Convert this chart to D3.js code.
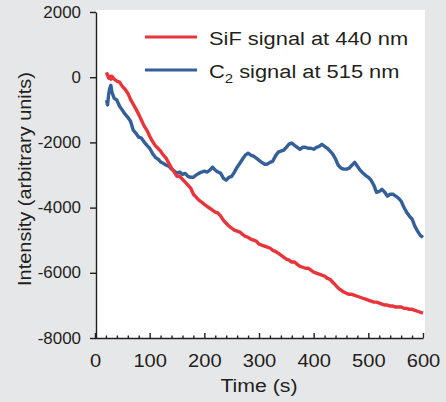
<!DOCTYPE html>
<html>
<head>
<meta charset="utf-8">
<script src="https://cdn.jsdelivr.net/npm/d3@7"></script>
<style>
  body { margin: 0; background: #e6e7e8; }
  svg { display: block; }
</style>
</head>
<body>
<div id="chart"></div>
<script>
// time points (s), shared by both traces
var times = [21, 23, 25, 27, 29, 31,
  35, 40, 45, 50, 55, 60, 65, 70, 75, 80, 85, 90, 95, 100,
  105, 110, 115, 120, 125, 130, 135, 140, 145, 150, 155, 160, 165, 170, 175, 180,
  185, 190, 195, 200, 205, 210, 215, 220, 225, 230, 235, 240, 245, 250, 255, 260,
  265, 270, 275, 280, 285, 290, 295, 300, 305, 310, 315, 320, 325, 330, 335, 340,
  345, 350, 355, 360, 365, 370, 375, 380, 385, 390, 395, 400, 405, 410, 415, 420,
  425, 430, 435, 440, 445, 450, 455, 460, 465, 470, 475, 480, 485, 490, 495, 500,
  505, 510, 515, 520, 525, 530, 535, 540, 545, 550, 555, 560, 565, 570, 575, 580,
  585, 590, 595, 600];

// SiF signal at 440 nm
var sifSignal = [150, 60, -30, 30, -60, 30,
  -60, -120, -150, -280, -370, -490, -680, -830, -980, -1140, -1320, -1500, -1630, -1810,
  -1960, -2090, -2180, -2270, -2390, -2480, -2640, -2790, -2910, -3040, -3040, -3130, -3220, -3310, -3400, -3590,
  -3680, -3770, -3830, -3900, -3960, -4020, -4080, -4140, -4170, -4260, -4390, -4480, -4570, -4630, -4690, -4720,
  -4750, -4820, -4880, -4910, -4970, -5000, -5030, -5120, -5150, -5180, -5210, -5240, -5310, -5340, -5400, -5460,
  -5520, -5580, -5610, -5670, -5670, -5740, -5800, -5830, -5860, -5860, -5920, -5980, -6010, -6040, -6070, -6100,
  -6170, -6200, -6290, -6380, -6470, -6530, -6590, -6630, -6660, -6660, -6690, -6720, -6750, -6780, -6810, -6840,
  -6870, -6900, -6900, -6930, -6960, -6990, -6990, -7020, -7020, -7050, -7050, -7050, -7090, -7090, -7120, -7120,
  -7150, -7180, -7210, -7240];

// C2 signal at 515 nm
var c2Signal = [-700, -850, -520, -340, -250, -460,
  -640, -705, -890, -1010, -1135, -1230, -1350, -1625, -1720, -1840, -1870, -1990, -2090, -2180,
  -2330, -2450, -2510, -2600, -2640, -2700, -2730, -2820, -2880, -2940, -2910, -2980, -2950, -3040, -3070, -3070,
  -3000, -2950, -2910, -2880, -2910, -2850, -2760, -2850, -2910, -2950, -3100, -3160, -3070, -3040, -2910, -2760,
  -2640, -2510, -2390, -2330, -2390, -2420, -2480, -2550, -2610, -2670, -2670, -2610, -2580, -2420, -2300, -2270,
  -2240, -2150, -2050, -2020, -2090, -2150, -2210, -2150, -2150, -2180, -2180, -2210, -2150, -2120, -2060, -2120,
  -2180, -2270, -2360, -2510, -2700, -2790, -2820, -2820, -2790, -2700, -2610, -2730, -2850, -2940, -3010, -3070,
  -3160, -3310, -3530, -3500, -3440, -3530, -3650, -3590, -3590, -3650, -3710, -3800, -3990, -4140, -4260, -4350,
  -4570, -4720, -4850, -4910];

var xTicks = [0, 100, 200, 300, 400, 500, 600];
var xMinorTicks = [20, 40, 60, 80, 120, 140, 160, 180, 220, 240, 260, 280, 320, 340, 360, 380,
  420, 440, 460, 480, 520, 540, 560, 580];
var yTicks = [-8000, -6000, -4000, -2000, 0, 2000];

var W = 446, H = 402;
var margin = {top: 12, right: 23, bottom: 64, left: 95};
var font = "'Liberation Sans', Arial, Helvetica, sans-serif";
var ink = "#231f20";
var sifColor = "#e8353b", c2Color = "#345f98";

var svg = d3.select("#chart").append("svg")
  .attr("width", W).attr("height", H)
  .style("font-family", font);

svg.append("rect").attr("width", W).attr("height", H).attr("fill", "#e6e7e8");

var x = d3.scaleLinear().domain([0, 600]).range([margin.left, W - margin.right]);
var y = d3.scaleLinear().domain([-8000, 2000]).range([H - margin.bottom, margin.top]);

// white plotting area
svg.append("rect")
  .attr("x", x(0) + 1).attr("y", y(2000) - 2)
  .attr("width", x(600) - x(0) + 1).attr("height", y(-8000) - y(2000) + 2)
  .attr("fill", "#fff");

// stretch text along its own direction (the original type runs wide)
function stretch(sel, k) {
  sel.each(function () {
    var t = d3.select(this);
    var tx = +t.attr("x") || 0;
    t.attr("x", tx / k)
      .attr("transform", (t.attr("transform") || "") + " scale(" + k + ",1)");
  });
}

// plain integer labels with a hyphen minus, like the original
var plain = function (d) { return String(d); };

// y axis
var yAxis = svg.append("g")
  .attr("transform", "translate(" + (x(0) + 1) + ",0)")
  .call(d3.axisLeft(y).tickValues(yTicks).tickFormat(plain)
    .tickSize(6).tickSizeOuter(0).tickPadding(9));
yAxis.selectAll("text").attr("font-size", 16).attr("fill", ink).attr("font-family", font);
stretch(yAxis.selectAll("text"), 1.06);

// x axis: minor ticks then major ticks, both pointing inward
var xMinor = svg.append("g")
  .attr("transform", "translate(0," + y(-8000) + ")")
  .call(d3.axisBottom(x).tickValues(xMinorTicks).tickSize(-2.5).tickSizeOuter(0).tickFormat(""));
xMinor.select(".domain").remove();

var xAxis = svg.append("g")
  .attr("transform", "translate(0," + y(-8000) + ")")
  .call(d3.axisBottom(x).tickValues(xTicks).tickFormat(plain)
    .tickSize(-5).tickSizeOuter(0).tickPadding(17));
xAxis.selectAll("text").attr("font-size", 17.5).attr("fill", ink).attr("font-family", font);
stretch(xAxis.selectAll("text"), 1.15);

svg.selectAll(".domain, .tick line").attr("stroke", ink).attr("stroke-width", 1.4);

// axis titles
var xTitle = svg.append("text")
  .attr("x", (x(0) + x(600)) / 2).attr("y", 392)
  .attr("text-anchor", "middle").attr("font-size", 18.5).attr("fill", ink)
  .text("Time (s)");
stretch(xTitle, 1.15);

svg.append("text")
  .attr("transform", "translate(31," + ((y(2000) + y(-8000)) / 2 + 4) + ") rotate(-90) scale(1.05,1)")
  .attr("text-anchor", "middle").attr("font-size", 19).attr("fill", ink)
  .text("Intensity (arbitrary units)");

// traces
var sifData = times.map(function (t, i) { return {t: t, v: sifSignal[i]}; });
var c2Data = times.map(function (t, i) { return {t: t, v: c2Signal[i]}; });

var line = d3.line().x(function (d) { return x(d.t); }).y(function (d) { return y(d.v); });

svg.append("path").datum(c2Data)
  .attr("d", line).attr("fill", "none").attr("stroke", c2Color)
  .attr("stroke-width", 3.4).attr("stroke-linejoin", "round");

svg.append("path").datum(sifData)
  .attr("d", line).attr("fill", "none").attr("stroke", sifColor)
  .attr("stroke-width", 3.4).attr("stroke-linejoin", "round");

// legend
var legend = svg.append("g");
legend.append("line").attr("x1", 145).attr("x2", 197).attr("y1", 37).attr("y2", 37)
  .attr("stroke", sifColor).attr("stroke-width", 3);
legend.append("line").attr("x1", 145).attr("x2", 197).attr("y1", 70).attr("y2", 70)
  .attr("stroke", c2Color).attr("stroke-width", 3);

var l1 = legend.append("text").attr("x", 209).attr("y", 45.5)
  .attr("font-size", 19).attr("fill", ink).text("SiF signal at 440 nm");
stretch(l1, 1.15);

var l2 = legend.append("text").attr("x", 209).attr("y", 78)
  .attr("font-size", 19).attr("fill", ink);
l2.append("tspan").text("C");
l2.append("tspan").attr("font-size", 13).attr("dy", 5).text("2");
l2.append("tspan").attr("dy", -5).text(" signal at 515 nm");
stretch(l2, 1.15);
</script>
</body>
</html>
